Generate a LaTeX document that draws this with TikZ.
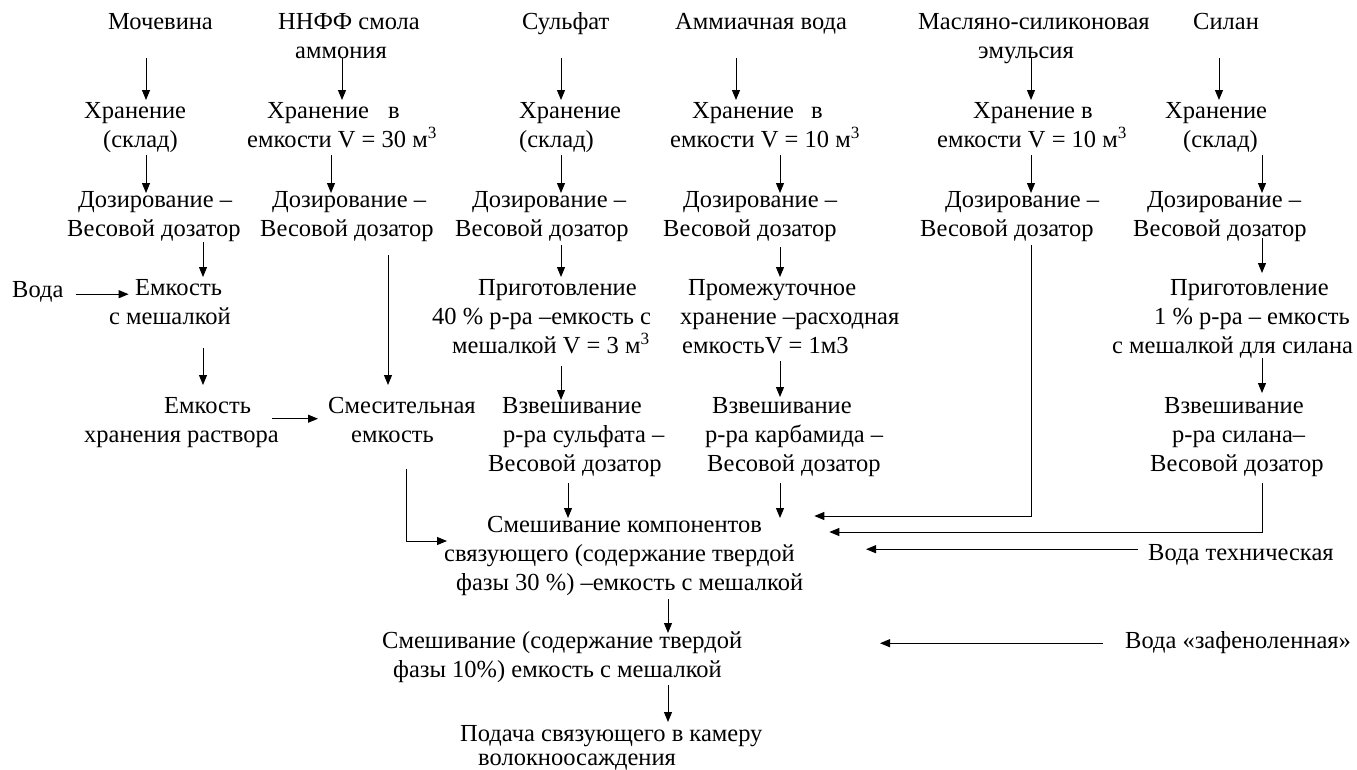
\documentclass[tikz,border=0pt]{standalone}
\usepackage{fontspec}
\setmainfont{Liberation Serif}
\usetikzlibrary{arrows.meta,calc}
\newcommand{\fsz}{\fontsize{24.5}{29}\selectfont}
\newcommand{\fszb}{\fontsize{24.5}{24}\selectfont}
\newcommand{\tst}{\rule{0pt}{18pt}}
\newcommand{\bst}{\rule[-6pt]{0pt}{6pt}}
\begin{document}
\begin{tikzpicture}[x=1pt,y=-1pt,
  txt/.style={inner sep=0pt, align=left, anchor=north west, font=\fsz},
  arr/.style={-{Triangle[length=10pt,width=8pt]}, line width=1pt},
  ln/.style={line width=1pt}]
\useasboundingbox[fill=white] (0,0) rectangle (1357,769);
% column x coordinates
\coordinate (xa) at (146,0);
\coordinate (xb) at (203,0);
\coordinate (xc) at (342,0);
\coordinate (xd) at (331,0);
\coordinate (xe) at (388,0);
\coordinate (xf) at (406,0);
\coordinate (xg) at (561,0);
\coordinate (xh) at (568,0);
\coordinate (xi) at (736,0);
\coordinate (xj) at (780,0);
\coordinate (xk) at (1031,0);
\coordinate (xl) at (1219,0);
\coordinate (xm) at (1262,0);
\coordinate (xn) at (668,0);
% top row
\node[txt] (moch) at (108,11) {\tst Мочевина\bst};
\node[txt] (nnff) at (278,11) {\tst ННФФ смола\\\hspace*{17pt}аммония\bst};
\node[txt] (sulf) at (522,11) {\tst Сульфат\bst};
\node[txt] (amm) at (675,11) {\tst Аммиачная вода\bst};
\node[txt] (masl) at (918,11) {\tst Масляно-силиконовая\\\hspace*{60pt}эмульсия\bst};
\node[txt] (silan) at (1193,11) {\tst Силан\bst};
% storage row
\node[txt] (h1) at (84,100) {\tst Хранение\\\hspace*{19pt}(склад)\bst};
\node[txt] (h2) at (247,100) {\hspace*{20pt}\tst Хранение\hspace{19pt}в\\емкости V = 30 м\textsuperscript{3}\bst};
\node[txt] (h3) at (519,100) {\tst Хранение\\(склад)\bst};
\node[txt] (h4) at (670,100) {\hspace*{22pt}\tst Хранение\hspace{17pt}в\\емкости V = 10 м\textsuperscript{3}\bst};
\node[txt] (h5) at (937,100) {\hspace*{36pt}\tst Хранение в\\емкости V = 10 м\textsuperscript{3}\bst};
\node[txt] (h6) at (1165,100) {\tst Хранение\\\hspace*{18pt}(склад)\bst};
% dosing row
\node[txt] (d1) at (67,189) {\hspace*{11pt}\tst Дозирование –\\Весовой дозатор\bst};
\node[txt] (d2) at (260,189) {\hspace*{12pt}\tst Дозирование –\\Весовой дозатор\bst};
\node[txt] (d3) at (455,189) {\hspace*{17pt}\tst Дозирование –\\Весовой дозатор\bst};
\node[txt] (d4) at (663,189) {\hspace*{20pt}\tst Дозирование –\\Весовой дозатор\bst};
\node[txt] (d5) at (920,189) {\hspace*{25pt}\tst Дозирование –\\Весовой дозатор\bst};
\node[txt] (d6) at (1133,189) {\hspace*{14pt}\tst Дозирование –\\Весовой дозатор\bst};
% preparation row
\node[txt] (voda) at (12,279) {\tst Вода\bst};
\node[txt] (e1) at (109,277) {\hspace*{26pt}\tst Емкость\\с мешалкой\bst};
\node[txt] (p3) at (432,277) {\hspace*{46pt}\tst Приготовление\\40 \% р-ра –емкость с\\\hspace*{20pt}мешалкой V = 3 м\textsuperscript{3}\bst};
\node[txt] (p4) at (680,277) {\hspace*{8pt}\tst Промежуточное\\хранение –расходная\\\hspace*{2pt}емкостьV = 1м3\bst};
\node[txt] (p6) at (1112,277) {\hspace*{58pt}\tst Приготовление\\\hspace*{42pt}1 \% р-ра – емкость\\с мешалкой для силана\bst};
% weighing row
\node[txt] (st) at (84,395) {\hspace*{80pt}\tst Емкость\\хранения раствора\bst};
\node[txt] (sm) at (328,395) {\tst Смесительная\\\hspace*{23pt}емкость\bst};
\node[txt] (w3) at (488,395) {\hspace*{14pt}\tst Взвешивание\\\hspace*{15pt}р-ра сульфата –\\Весовой дозатор\bst};
\node[txt] (w4) at (705,395) {\hspace*{7pt}\tst Взвешивание\\р-ра карбамида –\\\hspace*{2pt}Весовой дозатор\bst};
\node[txt] (w6) at (1150,395) {\hspace*{14pt}\tst Взвешивание\\\hspace*{22pt}р-ра силана–\\Весовой дозатор\bst};
% mixing
\node[txt] (m1) at (444,514) {\hspace*{43pt}\tst Смешивание компонентов\\связующего (содержание твердой\\\hspace*{12pt}фазы 30 \%) –емкость с мешалкой\bst};
\node[txt] (vt) at (1148,542) {\tst Вода техническая\bst};
\node[txt] (m2) at (382,630) {\tst Смешивание (содержание твердой\\\hspace*{11pt}фазы 10\%) емкость с мешалкой\bst};
\node[txt] (vz) at (1125,630) {\tst Вода «зафеноленная»\bst};
\node[txt, font=\fszb] (pod) at (460,723) {\tst Подача связующего в камеру\\\hspace*{18pt}волокноосаждения};
% arrows: top -> storage
\draw[arr] ($(moch.south -| xa)+(0,23)$) -- (h1.north -| xa);
\draw[arr] ($(nnff.south -| xc)+(0,-6)$) -- (h2.north -| xc);
\draw[arr] ($(sulf.south -| xg)+(0,23)$) -- (h3.north -| xg);
\draw[arr] ($(amm.south -| xi)+(0,23)$) -- (h4.north -| xi);
\draw[arr] ($(masl.south -| xk)+(0,-6)$) -- (h5.north -| xk);
\draw[arr] ($(silan.south -| xl)+(0,23)$) -- (h6.north -| xl);
% storage -> dosing
\draw[arr] ($(h1.south -| xa)+(0,2)$) -- ($(d1.north -| xa)+(0,4)$);
\draw[arr] ($(h2.south -| xd)+(0,2)$) -- ($(d2.north -| xd)+(0,4)$);
\draw[arr] ($(h3.south -| xg)+(0,2)$) -- ($(d3.north -| xg)+(0,4)$);
\draw[arr] ($(h4.south -| xj)+(0,2)$) -- ($(d4.north -| xj)+(0,4)$);
\draw[arr] ($(h5.south -| xk)+(0,2)$) -- ($(d5.north -| xk)+(0,4)$);
\draw[arr] ($(h6.south -| xm)+(0,2)$) -- ($(d6.north -| xm)+(0,4)$);
% column 1
\draw[arr] ($(voda.east)+(12,3)$) -- ++(53,0);
\draw[arr] (d1.south -| xb) -- (e1.north -| xb);
\draw[arr] ($(e1.south -| xb)+(0,18)$) -- ($(st.north -| xb)+(0,-10)$);
\draw[arr] ($(st.east)+(-7,-3)$) -- ($(sm.west)+(-10,-3)$);
% column 2
\draw[arr] ($(d2.south -| xe)+(0,13)$) -- ($(sm.north -| xe)+(0,-10)$);
\draw[arr] ($(sm.south -| xf)+(0,21)$) |- ($(m1.north west)+(3,27)$);
% column 3
\draw[arr] ($(d3.south -| xg)+(0,3)$) -- (p3.north -| xg);
\draw[arr] ($(p3.south -| xg)+(0,7)$) -- ($(w3.north -| xg)+(0,5)$);
\draw[arr] ($(w3.south -| xh)+(0,6)$) -- ($(m1.north -| xh)+(0,4)$);
% column 4
\draw[arr] ($(d4.south -| xj)+(0,5)$) -- (p4.north -| xj);
\draw[arr] ($(p4.south -| xj)+(0,2)$) -- ($(w4.north -| xj)+(0,2)$);
\draw[arr] ($(w4.south -| xj)+(0,6)$) -- ($(m1.north -| xj)+(0,4)$);
% column 5
\draw[arr] ($(d5.south -| xk)+(0,3)$) |- ($(m1.north east)+(11,2)$);
% column 6
\draw[arr] ($(d6.south -| xm)+(0,-4)$) -- ($(p6.north -| xm)+(0,-4)$);
\draw[arr] ($(p6.south -| xm)+(0,-1)$) -- ($(w6.north -| xm)+(0,-2)$);
\draw[arr] ($(w6.south -| xm)+(0,6)$) |- ($(m1.north east)+(26,18)$);
% waters
\draw[arr] ($(vt.west)+(-10,-5)$) -- ++(-272,0);
\draw[arr] ($(vz.west)+(-22,1)$) -- ++(-223,0);
% final chain
\draw[arr] ($(m1.south -| xn)+(0,3)$) -- ($(m2.north -| xn)+(0,3)$);
\draw[arr] ($(m2.south -| xn)+(0,2)$) -- ($(pod.north -| xn)+(0,-1)$);
\end{tikzpicture}
\end{document}
